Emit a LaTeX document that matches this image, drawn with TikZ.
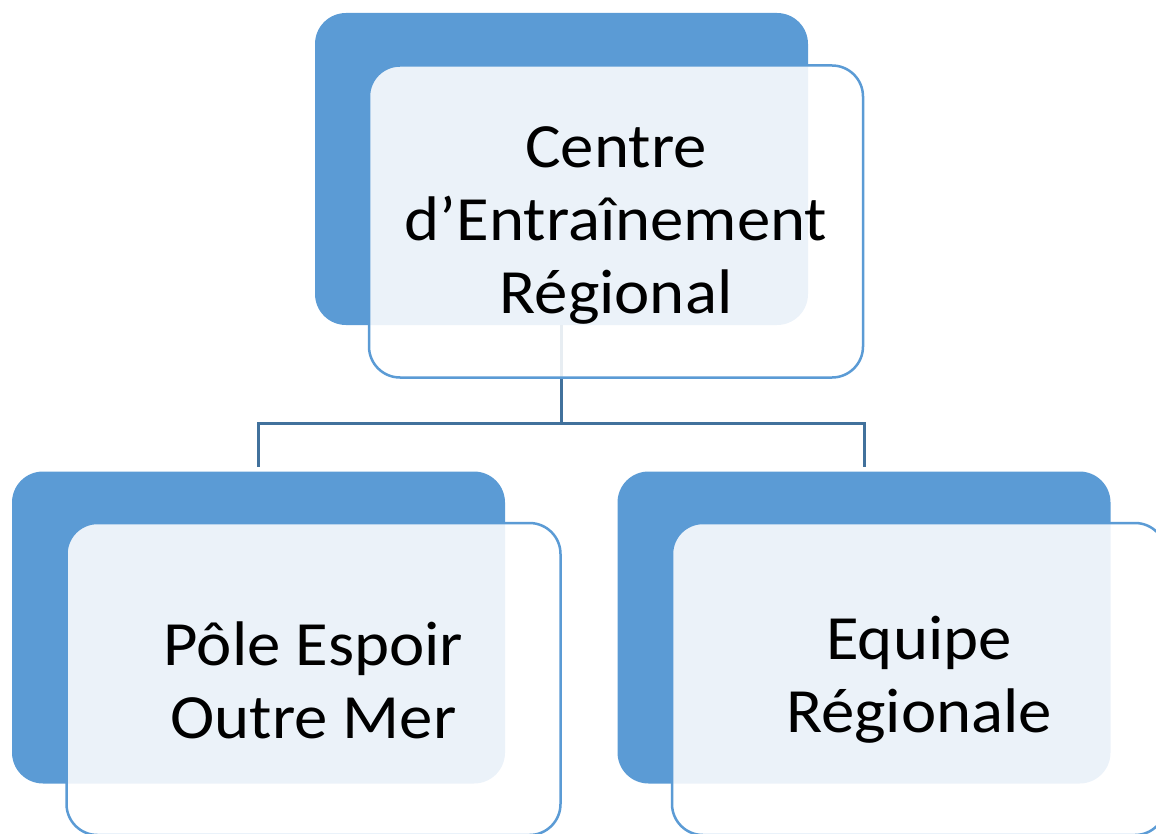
\documentclass[tikz,border=0pt]{standalone}
\usepackage{fontspec}
\setmainfont{Carlito}[FakeStretch=1.06]
\definecolor{backblue}{HTML}{5B9BD5}
\definecolor{linkblue}{HTML}{41719C}
\begin{document}
\begin{tikzpicture}[x=1pt,y=-1pt,
  backbox/.style={fill=backblue, rounded corners=31pt, inner sep=0pt,
    minimum width=493pt, minimum height=312pt},
  frontbox/.style={draw=backblue, line width=2.5pt, fill=white, fill opacity=0.88,
    text opacity=1, rounded corners=31pt, inner sep=0pt,
    minimum width=494pt, minimum height=312pt, align=center,
    font=\fontsize{63}{73}\selectfont},
  link/.style={draw=linkblue, line width=3pt}]
\useasboundingbox (0,0) rectangle (1156,834);
\node[backbox] (tb) at (561.5,169) {};
\node[backbox] (lb) at (258.5,627.5) {};
\node[backbox] (rb) at (864,627.5) {};
\coordinate (mid) at (561.5,423);
\draw[link] (tb.south) -- (mid);
\draw[link, shorten >=4pt] (mid) -| (lb.north);
\draw[link, shorten >=4pt] (mid) -| (rb.north);
\node[frontbox] (tf) at (616,221.5) {};
\node[frontbox] (lf) at (313.5,679) {};
\node[frontbox] (rf) at (919,679) {};
\node[align=center, font=\fontsize{63}{73}\selectfont] (tt) at ([yshift=-4pt]tf.center) {Centre\\d’Entraînement\\Régional};
\node[align=center, font=\fontsize{63}{73}\selectfont] (lt) at ([yshift=-1pt]lf.center) {Pôle Espoir\\Outre Mer};
\node[align=center, font=\fontsize{63}{73}\selectfont] (rt) at ([yshift=-1pt]rf.center) {Equipe\\Régionale};
\end{tikzpicture}
\end{document}
